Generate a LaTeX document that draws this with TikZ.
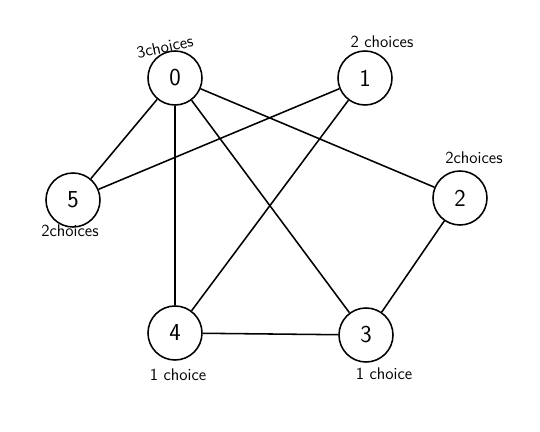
\documentclass[tikz,border=0pt]{standalone}
\usepackage{amsfonts,amssymb,amsmath}
\usepackage{xcolor}
\usetikzlibrary{arrows.meta,positioning}

\begin{document}
\begin{tikzpicture}[x=0.025cm,y=-0.025cm,font=\sffamily,
vert/.style={circle,draw,line width=1.1pt,minimum size=1.35cm,inner sep=0pt,font=\sffamily\LARGE},
choice/.style={font=\sffamily\large}]
\useasboundingbox (0,0) rectangle (540,432);
\node[vert](n0) at (175,78){0};
\node[vert](n1) at (365,78){1};
\node[vert](n2) at (460,198){2};
\node[vert](n5) at (73,200){5};
\node[vert](n4) at (175,333){4};
\node[vert](n3) at (366,335){3};
\draw[line width=1.1pt](n0)--(n5) (n0)--(n4) (n0)--(n3) (n0)--(n2)
(n1)--(n5) (n1)--(n4) (n2)--(n3) (n4)--(n3);
\node[choice,rotate=12](l0) at (165,47){3choices};
\node[choice](l1) at (382,42){2 choices};
\node[choice](l2) at (474,158){2choices};
\node[choice](l5) at (70,231){2choices};
\node[choice](l4) at (178,375){1 choice};
\node[choice](l3) at (384,374){1 choice};
\end{tikzpicture}
\end{document}
